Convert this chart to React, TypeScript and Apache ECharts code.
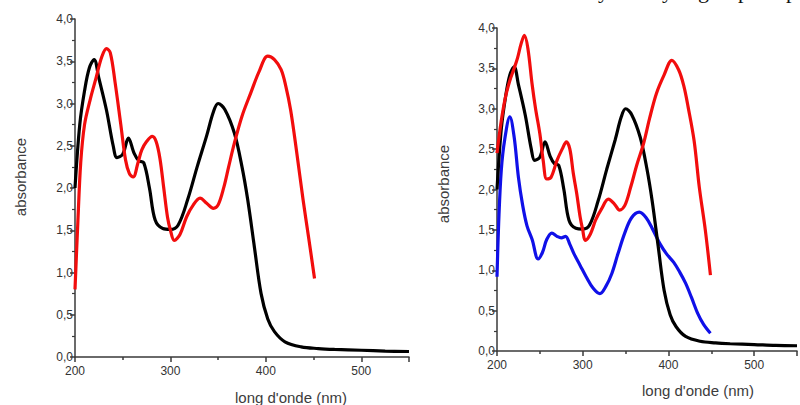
import React, { useEffect, useRef } from "react";
import * as echarts from "echarts";

// Wavelength (nm) and absorbance values
const blackNm = [200, 205, 210, 215, 220, 225, 233, 240, 244, 250, 256, 262, 267, 272, 278, 284, 292, 300, 308, 318, 328, 338, 345, 350, 357, 367, 375, 381, 388, 395, 402, 409, 420, 437, 455, 472, 500, 525, 550];
const blackA = [2.0, 2.75, 3.15, 3.42, 3.52, 3.3, 2.92, 2.5, 2.36, 2.4, 2.59, 2.41, 2.32, 2.3, 2.0, 1.62, 1.52, 1.51, 1.56, 1.86, 2.25, 2.62, 2.9, 3.0, 2.93, 2.65, 2.25, 1.86, 1.3, 0.75, 0.45, 0.3, 0.18, 0.12, 0.1, 0.09, 0.08, 0.07, 0.065];

const redLeftNm = [200, 203, 206, 210, 216, 222, 228, 233, 237, 242, 248, 253, 257, 261, 266, 270, 275, 281, 285, 289, 293, 297, 300, 304, 310, 317, 324, 331, 338, 345, 350, 356, 361, 367, 375, 384, 393, 402, 409, 416, 421, 426, 432, 439, 445, 451];
const redLeftA = [0.8, 1.6, 2.3, 2.75, 3.05, 3.3, 3.55, 3.65, 3.6, 3.25, 2.75, 2.33, 2.17, 2.13, 2.3, 2.45, 2.55, 2.61, 2.55, 2.35, 2.0, 1.65, 1.5, 1.38, 1.45, 1.66, 1.8, 1.88, 1.82, 1.76, 1.8, 2.01, 2.25, 2.53, 2.85, 3.12, 3.38, 3.56, 3.52, 3.4, 3.2, 2.92, 2.45, 1.86, 1.4, 0.93];

const redRightNm = [200, 205, 210, 215, 220, 224, 228, 232, 236, 241, 245, 250, 254, 258, 263, 270, 276, 281, 285, 289, 293, 297, 300, 303, 309, 315, 322, 330, 337, 343, 349, 356, 363, 371, 378, 386, 395, 404, 412, 418, 423, 430, 436, 443, 449];
const redRightA = [2.45, 2.85, 3.15, 3.35, 3.5, 3.63, 3.8, 3.91, 3.75, 3.3, 3.0, 2.69, 2.35, 2.13, 2.15, 2.36, 2.5, 2.59, 2.5, 2.2, 1.95, 1.66, 1.5, 1.37, 1.45, 1.62, 1.76, 1.88, 1.82, 1.745, 1.8, 2.03, 2.3, 2.57, 2.88, 3.19, 3.42, 3.6, 3.48, 3.28, 3.02, 2.6, 2.03, 1.5, 0.94];

const blueNm = [200, 202, 205, 209, 215, 220, 225, 230, 235, 241, 248, 253, 258, 264, 270, 275, 280, 285, 290, 297, 304, 312, 320, 327, 334, 341, 349, 357, 366, 374, 382, 390, 398, 406, 413, 420, 427, 434, 441, 449];
const blueA = [0.92, 1.6, 2.24, 2.62, 2.9, 2.65, 2.15, 1.8, 1.55, 1.38, 1.14, 1.22, 1.38, 1.46, 1.42, 1.4, 1.42, 1.32, 1.2, 1.06, 0.92, 0.78, 0.71, 0.8, 0.96, 1.2, 1.46, 1.65, 1.72, 1.65, 1.5, 1.33, 1.2, 1.1, 0.98, 0.84, 0.66, 0.47, 0.33, 0.22];

const xTicks = [200, 300, 400, 500];
const yTicks = [0, 0.5, 1, 1.5, 2, 2.5, 3, 3.5, 4];
const yAxisTitle = "absorbance";
const xAxisTitle = "long d'onde (nm)";
const topFragments = ["y", "y", "g", "p", "p"];

const zip = (xs: number[], ys: number[]) => xs.map((x, i) => [x, ys[i]]);

const AXIS_COLOR = "#3a3a3a";
const FONT = "Liberation Sans";

function makeX(gridIndex: number) {
  return {
    type: "value" as const,
    gridIndex,
    min: 200,
    max: 550,
    interval: 100,
    axisLine: { show: true, lineStyle: { color: AXIS_COLOR, width: 1.5 } },
    axisTick: { show: true, length: 5, lineStyle: { color: AXIS_COLOR, width: 1.5 } },
    minorTick: { show: true, splitNumber: 2, length: 3, lineStyle: { color: AXIS_COLOR, width: 1.5 } },
    splitLine: { show: false },
    axisLabel: {
      margin: 8,
      fontSize: 12,
      fontFamily: FONT,
      color: "#333",
      formatter: (v: number) => (xTicks.includes(v) ? String(v) : ""),
    },
  };
}

function makeY(gridIndex: number) {
  return {
    type: "value" as const,
    gridIndex,
    min: 0,
    max: 4,
    interval: 0.5,
    axisLine: { show: true, lineStyle: { color: AXIS_COLOR, width: 1.5 } },
    axisTick: { show: true, length: 5, lineStyle: { color: AXIS_COLOR, width: 1.5 } },
    minorTick: { show: true, splitNumber: 2, length: 3, lineStyle: { color: AXIS_COLOR, width: 1.2 } },
    splitLine: { show: false },
    axisLabel: {
      margin: 2,
      fontSize: 12,
      fontFamily: FONT,
      color: "#333",
      formatter: (v: number) => (yTicks.includes(v) ? v.toFixed(1).replace(".", ",") : ""),
    },
  };
}

function line(name: string, data: number[][], color: string, idx: number) {
  return {
    name,
    type: "line" as const,
    xAxisIndex: idx,
    yAxisIndex: idx,
    data,
    smooth: 0.35,
    showSymbol: false,
    symbol: "none",
    clip: true,
    lineStyle: { color, width: 3.2 },
  };
}

export default function App() {
  const ref = useRef<HTMLDivElement>(null);
  useEffect(() => {
    if (!ref.current) return;
    const chart = echarts.init(ref.current, null, { renderer: "svg" });
    chart.setOption({
      animation: false,
      backgroundColor: "#ffffff",
      grid: [
        { left: 75, top: 19, width: 334, height: 338 },
        { left: 497, top: 28, width: 313, height: 323 },
      ],
      xAxis: [makeX(0), makeX(1)],
      yAxis: [makeY(0), makeY(1)],
      series: [
        line("noir", zip(blackNm, blackA), "#000000", 0),
        line("rouge", zip(redLeftNm, redLeftA), "#f20d0d", 0),
        line("bleu", zip(blueNm, blueA), "#1010e8", 1),
        line("noir", zip(blackNm, blackA), "#000000", 1),
        line("rouge", zip(redRightNm, redRightA), "#f20d0d", 1),
      ],
      graphic: [
        {
          type: "text",
          x: 20,
          y: 177,
          rotation: Math.PI / 2,
          style: { text: yAxisTitle, fontSize: 15, fontFamily: FONT, fill: "#3c3c3c", align: "center", verticalAlign: "middle" },
        },
        {
          type: "text",
          x: 443,
          y: 184,
          rotation: Math.PI / 2,
          style: { text: yAxisTitle, fontSize: 15, fontFamily: FONT, fill: "#3c3c3c", align: "center", verticalAlign: "middle" },
        },
        {
          type: "text",
          x: 291,
          y: 397,
          style: { text: xAxisTitle, fontSize: 15, fontFamily: FONT, fill: "#3c3c3c", align: "center", verticalAlign: "middle" },
        },
        {
          type: "text",
          x: 698,
          y: 390,
          style: { text: xAxisTitle, fontSize: 15, fontFamily: FONT, fill: "#3c3c3c", align: "center", verticalAlign: "middle" },
        },
        ...topFragments.map((t, i) => ({
          type: "text",
          x: [598, 662, 698, 738, 786][i],
          y: 1,
          style: { text: t, fontSize: 22, fontFamily: "Liberation Serif", fill: "#111", verticalAlign: "bottom" },
        })),
      ],
    });
    return () => chart.dispose();
  }, []);
  return <div ref={ref} style={{ position: "fixed", left: 0, top: 0, width: 800, height: 405 }} />;
}
